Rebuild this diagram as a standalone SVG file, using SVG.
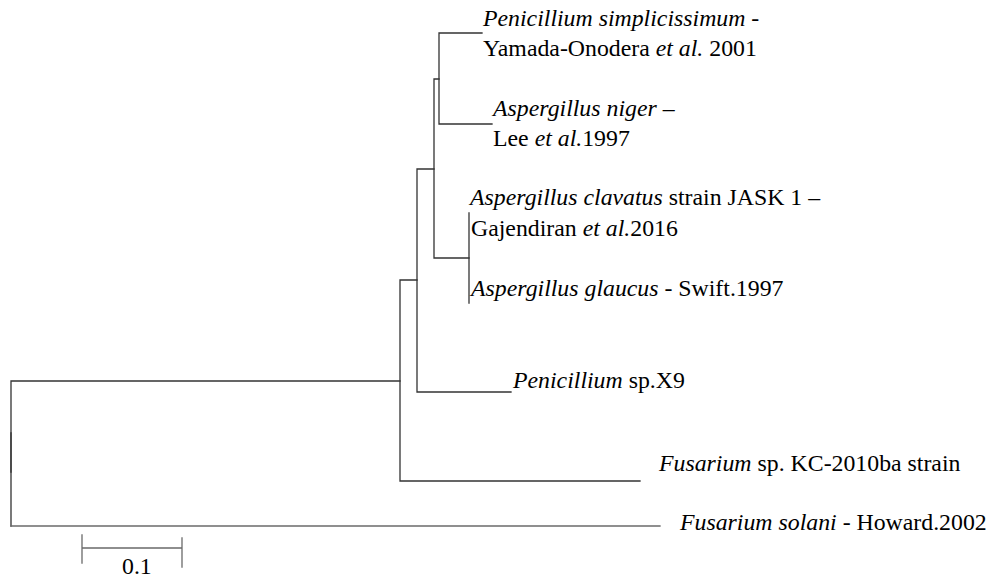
<svg xmlns="http://www.w3.org/2000/svg" width="996" height="576" viewBox="0 0 996 576">
<style>
.br{fill:none;stroke:#333;stroke-width:1.3;stroke-linecap:square}
.gr{stroke:#6a6a6a}
text{font-size:23.8px;fill:#000}
.it{font-style:italic}
</style>
<rect width="996" height="576" fill="#fff"/>
<g id="connectors">
<path class="br" d="M11,381 V526 M11,381 H400"/>
<path class="br" d="M11,433 V472" stroke-width="2"/>
<path class="br gr" d="M11,526 H660"/>
<path class="br" d="M400,280 V481 M400,481 H640 M400,280 H417"/>
<path class="br" d="M417,169 V392 M417,392 H511 M417,169 H434"/>
<path class="br" d="M434,79 V258 M434,79 H439 M434,258 H469"/>
<path class="br" d="M439,33 V124 M439,33 H482 M439,124 H492"/>
<path class="br" d="M469,213 V303"/>
</g>
<g id="n-psimp"><text x="483" y="26" font-family="Times"><tspan class="it">Penicillium simplicissimum</tspan> -</text>
<text x="483" y="56" font-family="Times">Yamada-Onodera <tspan class="it">et al.</tspan> 2001</text></g>
<g id="n-aniger"><text x="493" y="116" font-family="Times"><tspan class="it">Aspergillus niger</tspan> –</text>
<text x="493" y="146" font-family="Times">Lee <tspan class="it">et al.</tspan>1997</text></g>
<g id="n-aclav"><text x="470" y="205" font-family="Times"><tspan class="it">Aspergillus clavatus</tspan> strain JASK 1 –</text>
<text x="471" y="236" font-family="Times">Gajendiran <tspan class="it">et al.</tspan>2016</text></g>
<g id="n-aglau"><text x="471" y="296" font-family="Times"><tspan class="it">Aspergillus glaucus</tspan> - Swift.1997</text></g>
<g id="n-px9"><text x="513" y="388" font-family="Times"><tspan class="it">Penicillium</tspan> sp.X9</text></g>
<g id="n-fsp"><text x="659" y="471" font-family="Times"><tspan class="it">Fusarium</tspan> sp. KC-2010ba strain</text></g>
<g id="n-fsol"><text x="680" y="530" font-family="Times"><tspan class="it">Fusarium solani</tspan> - Howard.2002</text></g>
<g id="scale"><path class="br gr" d="M82,548 H182 M82,535 V563 M182,538 V567"/>
<text x="122" y="574" font-family="Times">0.1</text></g>
</svg>
